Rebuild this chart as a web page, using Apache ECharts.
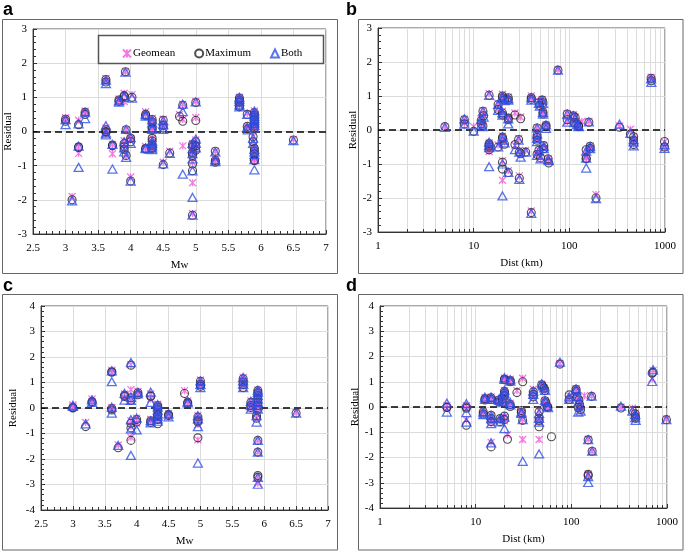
<!DOCTYPE html>
<html><head><meta charset="utf-8">
<script src="https://cdn.jsdelivr.net/npm/echarts@6/dist/echarts.min.js"></script>
<style>html,body{margin:0;padding:0;background:#fff}#c{width:685px;height:552px}</style>
</head><body><div id="c"></div>
<script>
// ---------- DATA (rows: [x, Geomean, Maximum, Both]) ----------
const seriesNames = ['Geomean', 'Maximum', 'Both'];
const panelTitles = ['a', 'b', 'c', 'd'];
const mwTicks = [2.5, 3, 3.5, 4, 4.5, 5, 5.5, 6, 6.5, 7];
const distTicks = [1, 10, 100, 1000];

const aRows = [
 [3.0, 0.40, 0.36, 0.35],[3.0, 0.36, 0.30, 0.20],[3.1, -1.90, -2.00, -2.03],
 [3.2, 0.33, 0.20, 0.22],[3.2, -0.45, -0.45, -0.43],[3.2, -0.64, -0.47, -1.05],
 [3.3, 0.60, 0.56, 0.57],[3.3, 0.55, 0.50, 0.38],
 [3.62, 1.55, 1.52, 1.50],[3.62, 1.48, 1.45, 1.40],[3.62, 0.10, 0.05, 0.17],[3.62, 0.00, 0.00, -0.05],[3.62, -0.05, -0.02, -0.10],
 [3.72, -0.38, -0.40, -0.38],[3.72, -0.65, -0.42, -1.10],
 [3.82, 0.95, 0.92, 0.90],[3.82, 0.90, 0.88, 0.86],
 [3.92, 1.75, 1.75, 1.74],[3.90, 1.12, 1.05, 1.04],[3.90, 0.88, 1.02, 1.00],[3.93, 0.06, 0.05, 0.06],
 [3.90, -0.27, -0.35, -0.30],[3.90, -0.40, -0.45, -0.48],[3.90, -0.50, -0.52, -0.60],[3.93, -0.70, -0.70, -0.76],
 [4.02, 1.08, 1.00, 0.98],[4.00, -0.20, -0.20, -0.18],[4.00, -0.25, -0.30, -0.35],[4.00, -1.33, -1.45, -1.45],
 [4.23, 0.58, 0.50, 0.50],[4.23, 0.50, 0.46, 0.45],[4.23, -0.44, -0.50, -0.50],[4.23, -0.50, -0.52, -0.48],
 [4.33, 0.38, 0.35, 0.34],[4.33, 0.30, 0.28, 0.25],[4.33, 0.12, 0.10, 0.10],[4.33, 0.08, 0.06, 0.06],
 [4.33, -0.20, -0.20, -0.28],[4.33, -0.30, -0.28, -0.35],[4.33, -0.38, -0.40, -0.42],[4.33, -0.45, -0.47, -0.48],[4.33, -0.50, -0.50, -0.53],
 [4.50, 0.36, 0.33, 0.32],[4.50, 0.20, 0.18, 0.20],[4.50, 0.10, 0.10, 0.06],[4.50, -0.90, -0.97, -0.95],
 [4.60, -0.58, -0.63, -0.64],
 [4.75, 0.50, 0.44, null],[4.80, 0.80, 0.77, 0.80],[4.80, 0.35, 0.30, 0.58],[4.80, -0.42, null, -1.25],
 [4.95, -0.35, -0.38, -0.35],[4.95, -0.42, -0.45, -0.50],[4.95, -0.60, -0.62, -0.65],[4.95, -0.65, -0.70, -0.80],
 [4.95, -0.90, -0.95, -1.15],[4.95, -1.50, -1.15, -1.93],[4.95, -2.40, -2.45, -2.45],
 [5.00, -0.25, -0.30, -0.22],[5.00, -0.40, -0.42, -0.35],[5.00, -0.50, -0.55, -0.48],[5.00, 0.88, 0.85, 0.87],[5.00, 0.41, 0.32, null],
 [5.30, -0.58, -0.58, -0.60],[5.30, -0.80, -0.85, -0.83],[5.30, -0.88, -0.90, -0.88],
 [5.67, 1.00, 0.98, 1.00],[5.67, 0.95, 0.92, 0.94],[5.67, 0.88, 0.86, 0.88],[5.67, 0.80, 0.75, 0.78],[5.67, 0.75, 0.72, 0.72],
 [5.79, 0.53, 0.50, 0.50],[5.79, 0.15, 0.15, 0.12],[5.80, 0.10, 0.08, 0.05],
 [5.90, 0.60, 0.55, 0.60],[5.90, 0.50, 0.48, 0.52],[5.90, 0.45, 0.42, 0.45],[5.90, 0.38, 0.35, 0.38],
 [5.90, 0.30, 0.30, 0.32],[5.90, 0.25, 0.22, 0.25],[5.90, 0.15, 0.15, 0.18],[5.90, 0.10, 0.10, 0.10],
 [5.88, -0.15, -0.15, -0.20],[5.88, -0.30, -0.30, -0.35],[5.90, -0.50, -0.50, -0.52],[5.90, -0.60, -0.58, -0.60],
 [5.90, -0.65, -0.65, -0.68],[5.90, -0.80, -0.85, -0.82],[5.90, -0.85, -0.85, -1.12],
 [6.50, -0.23, -0.25, -0.27]
];

const bRows = [
 [5, 0.10, 0.10, 0.08],[8, 0.32, 0.30, 0.33],[8, 0.20, 0.18, 0.17],[10, 0.10, -0.04, -0.03],
 [12, 0.20, 0.18, 0.15],[12, 0.30, 0.28, 0.32],[12.5, 0.57, 0.55, 0.55],[12.7, 0.45, 0.42, 0.38],[12.5, 0.12, 0.12, 0.10],
 [14.5, 1.07, 1.02, 1.02],[14.5, -0.38, -0.40, -0.36],[14.5, -0.45, -0.45, -0.45],[14.5, -0.50, -0.50, -0.52],[14.5, -0.63, -0.58, -1.08],
 [18, -0.44, -0.50, -0.50],[18, 0.78, 0.75, 0.75],[18, 0.60, 0.60, 0.58],
 [20, 1.05, 1.00, 0.98],[20, 0.98, 0.95, 0.92],[21, 0.90, 0.88, 0.86],[20, 0.55, 0.50, 0.50],[20, 0.45, 0.44, 0.44],
 [20, -0.18, -0.21, -0.20],[20, -0.28, -0.25, -0.30],[21, -0.36, -0.42, -0.38],[20, -0.90, -0.95, -1.00],[20, -1.48, -1.15, -1.94],
 [23, -1.20, -1.25, -1.25],[23, 0.97, 0.95, 0.92],[23, 0.90, 0.88, 0.88],[23, 0.38, 0.35, 0.33],[23, 0.30, 0.30, 0.18],
 [27, 0.50, 0.44, null],[27, -0.45, -0.43, -0.58],[31, 0.38, 0.33, null],
 [29.5, -0.25, -0.28, -0.30],[30, -0.60, -0.65, -0.65],[31, -0.70, -0.70, -0.80],[30, -1.35, -1.42, -1.45],[35, -0.60, -0.65, -0.65],
 [40, 1.00, 0.95, 0.95],[40, 0.92, 0.90, 0.88],[40, -2.38, -2.43, -2.45],
 [46, 0.07, 0.06, 0.06],[46, -0.12, -0.15, -0.12],[46, -0.22, -0.22, -0.25],[46, -0.30, -0.30, -0.34],[46, -0.72, -0.72, -0.75],
 [48, 0.85, 0.80, 0.78],[49, 0.75, 0.72, 0.70],[52, 0.90, 0.88, 0.88],[53, 0.82, 0.80, 0.78],[53, 0.55, 0.52, 0.52],[53, 0.50, 0.47, 0.47],
 [57, 0.15, 0.14, 0.15],[57, 0.10, 0.10, 0.05],[54, -0.45, -0.46, -0.48],[54, -0.55, -0.55, -0.55],
 [48, -0.60, -0.60, -0.62],[50, -0.80, -0.82, -0.85],[60, -0.85, -0.85, -0.87],[61, -0.92, -0.97, -0.90],
 [76, 1.77, 1.76, 1.76],[95, 0.48, 0.47, 0.47],[95, 0.25, 0.30, 0.23],
 [110, 0.45, 0.42, 0.42],[115, 0.38, 0.37, 0.35],[113, 0.25, 0.22, 0.22],[120, 0.18, 0.18, 0.16],[125, 0.12, 0.12, 0.12],[125, 0.10, 0.10, 0.10],
 [135, 0.25, null, null],[160, 0.25, 0.23, 0.24],
 [150, -0.60, -0.58, -0.62],[150, -0.82, -0.83, -0.83],[150, -0.80, -0.85, -1.12],[165, -0.47, -0.48, -0.48],[165, -0.55, -0.54, -0.55],
 [190, -1.90, -2.00, -2.02],[335, 0.12, 0.08, 0.17],[435, 0.02, -0.12, -0.10],
 [470, -0.20, -0.20, -0.28],[470, -0.30, -0.30, -0.35],[470, -0.42, -0.43, -0.47],
 [715, 1.55, 1.52, 1.50],[720, 1.48, 1.45, 1.40],[990, -0.35, -0.34, -0.44],[990, -0.50, -0.50, -0.54]
];

const cRows = [
 [3.0, 0.12, 0.02, 0.10],[3.0, 0.05, 0.00, 0.06],[3.2, -0.57, -0.73, -0.62],[3.3, 0.35, 0.25, 0.32],[3.3, 0.25, 0.22, 0.22],
 [3.61, 1.48, 1.42, 1.46],[3.61, 1.40, 1.40, 1.03],[3.61, 0.02, -0.02, 0.03],[3.61, -0.10, -0.08, -0.20],
 [3.71, -1.45, -1.56, -1.47],[3.81, 0.55, 0.50, 0.57],[3.81, 0.40, 0.45, 0.31],
 [3.91, 1.70, 1.68, 1.78],[3.91, 0.72, 0.40, 0.42],[3.91, 0.30, 0.30, 0.30],[3.91, -0.50, -0.60, -0.46],[3.91, -0.72, -0.78, -0.82],[3.91, -1.15, -1.27, -1.86],
 [4.00, -0.40, -0.45, -0.40],[4.00, -0.60, -0.55, -0.86],[4.02, 0.65, 0.60, 0.62],[4.02, 0.55, 0.52, 0.55],
 [4.22, 0.55, 0.48, 0.62],[4.22, 0.35, 0.45, 0.22],[4.22, -0.45, -0.50, -0.50],[4.22, -0.55, -0.57, -0.58],
 [4.33, 0.15, 0.10, 0.13],[4.33, 0.05, 0.03, 0.03],[4.33, -0.05, -0.07, -0.08],[4.33, -0.22, -0.25, -0.23],
 [4.33, -0.30, -0.30, -0.32],[4.33, -0.43, -0.45, -0.43],[4.33, -0.50, -0.62, -0.52],
 [4.50, -0.22, -0.25, -0.23],[4.50, -0.30, -0.30, -0.35],
 [4.75, 0.68, 0.57, null],[4.80, 0.28, 0.22, 0.25],[4.80, 0.20, 0.18, 0.20],
 [4.96, -0.30, -0.35, -0.30],[4.96, -0.45, -0.50, -0.43],[4.96, -0.65, -0.55, -0.73],[4.96, -1.25, -1.17, -2.16],
 [5.00, 1.10, 1.05, 1.06],[5.00, 0.95, 0.92, 0.93],[5.00, 0.85, 0.85, 0.80],
 [5.67, 1.20, 1.15, 1.20],[5.67, 1.05, 1.02, 1.06],[5.67, 0.95, 0.92, 0.94],[5.67, 0.82, 0.80, 0.80],
 [5.79, 0.28, 0.22, 0.26],[5.79, 0.10, 0.10, 0.09],[5.79, 0.00, 0.02, -0.04],
 [5.90, 0.70, 0.68, 0.70],[5.90, 0.60, 0.60, 0.61],[5.90, 0.50, 0.48, 0.48],[5.90, 0.35, 0.35, 0.35],
 [5.90, 0.22, 0.22, 0.22],[5.90, 0.10, 0.10, 0.09],[5.90, -0.03, -0.05, -0.04],
 [5.88, -0.25, -0.30, -0.30],[5.88, -0.40, -0.40, -0.55],[5.90, -1.27, -1.27, -1.27],[5.90, -1.73, -1.73, -1.73],
 [5.90, -2.70, -2.65, -2.72],[5.90, -2.95, -2.72, -2.99],[6.50, -0.18, -0.20, -0.20]
];

const dRows = [
 [5, 0.05, 0.00, 0.15],[5, -0.05, -0.02, -0.20],[8, 0.05, 0.00, 0.13],[8, -0.05, -0.05, -0.22],[8, -0.50, -0.72, -0.60],
 [12, -0.20, -0.20, -0.20],[12, -0.30, -0.28, -0.30],[12.5, 0.38, 0.33, 0.39],[12.5, 0.30, 0.28, 0.30],
 [14.5, 0.40, 0.36, 0.40],[14.5, 0.30, 0.30, 0.30],[14.5, -0.35, -0.33, -0.33],[14.5, -0.45, -0.46, -0.46],[14.5, -0.63, -0.58, -0.66],[14.5, -1.40, -1.58, -1.42],
 [17.5, 0.30, 0.28, 0.30],[17.5, 0.22, 0.20, 0.26],[18, -0.45, -0.46, -0.46],[18, -0.55, -0.58, -0.59],
 [20, 1.15, 1.10, 1.16],[20, 1.10, 1.08, 1.09],[20, 0.65, 0.62, 0.66],[20, 0.55, 0.55, 0.55],[20, 0.45, 0.45, 0.46],
 [19, 0.35, 0.33, 0.33],[19, 0.20, 0.20, 0.20],[20, -0.40, -0.36, -0.40],[20, -0.55, -0.50, -0.86],[21.5, -1.10, -1.28, null],
 [23, 1.10, 1.05, 1.08],[23, 1.02, 1.00, 1.02],[23, 0.15, 0.10, 0.18],[23, 0.05, 0.02, 0.08],
 [27, 0.65, 0.57, null],[30, -0.15, -0.14, -0.20],[30, -0.25, -0.22, -0.25],[31, 1.14, 1.00, null],[31, -0.50, -0.53, -0.50],[31, -1.29, null, -2.15],
 [40, 0.70, 0.60, 0.63],[40, 0.50, 0.50, 0.50],[40, 0.35, 0.40, 0.30],
 [46, -0.15, -0.20, -0.25],[46, -0.40, -0.45, -0.45],[46, -0.58, -0.55, -0.60],[46, -1.29, -0.78, -1.86],
 [49, 0.90, 0.88, 0.92],[50, 0.85, 0.82, 0.84],[52, 0.75, 0.74, 0.76],[53, 0.65, 0.65, 0.66],[53, 0.25, 0.25, 0.26],[54, 0.18, 0.18, 0.20],
 [56, 0.03, 0.02, 0.03],[57, -0.02, -0.02, -0.03],[62, null, -1.18, null],
 [76, 1.72, 1.70, 1.78],[95, 0.45, 0.48, 0.40],[95, 0.30, 0.30, 0.30],
 [112, 0.72, 0.70, 0.72],[112, 0.65, 0.62, 0.66],[115, 0.40, 0.40, 0.42],[120, 0.25, 0.28, 0.22],[122, 0.15, 0.10, 0.05],
 [118, -0.05, -0.02, -0.20],[125, -0.15, -0.10, -0.16],[137, 0.45, null, null],[163, 0.43, 0.42, 0.43],
 [150, -1.28, -1.30, -1.29],[165, -1.75, -1.75, -1.75],[150, -2.65, -2.67, -2.76],[150, -2.70, -2.72, -2.99],
 [330, 0.00, -0.04, 0.03],[435, -0.05, -0.15, -0.16],[465, -0.25, -0.27, -0.30],[465, -0.35, -0.37, -0.42],[470, -0.45, -0.45, -0.53],
 [715, 1.45, 1.38, 1.47],[700, 1.12, 1.35, 1.01],[985, -0.48, -0.50, -0.50]
];

// ---------- STYLE ----------
const SERIF = '"Liberation Serif","Times New Roman",serif';
const GEO_COLOR = '#f05ad8', MAX_COLOR = '#222222', BOTH_COLOR = '#2f50e6';
const GEO_SYMBOL = 'path://M0,0L10,10M10,0L0,10M5,0L5,10';

const chart = echarts.init(document.getElementById('c'), null, {renderer: 'canvas'});

const grids = [
  {left: 33, top: 29, width: 293, height: 205},
  {left: 378, top: 28, width: 287, height: 204},
  {left: 41, top: 306, width: 287, height: 204},
  {left: 380, top: 306, width: 287, height: 202}
].map(g => Object.assign({show: true, borderColor: '#555', borderWidth: 1, backgroundColor: 'transparent'}, g));

const axisLineStyle = {color: '#333', width: 1};
const labelStyle = {color: '#000', fontFamily: SERIF, fontSize: 11};
const nameStyle = {color: '#000', fontFamily: SERIF, fontSize: 11};

function xAxisMw(gi, gap) {
  return {type: 'value', gridIndex: gi, min: mwTicks[0], max: mwTicks[mwTicks.length - 1], interval: 0.5,
    name: 'Mw', nameLocation: 'middle', nameGap: gap, nameTextStyle: nameStyle,
    axisLine: {show: true, onZero: false, lineStyle: axisLineStyle},
    axisTick: {show: true, inside: true, length: 4, lineStyle: axisLineStyle},
    minorTick: {show: true, splitNumber: 5, length: 3, lineStyle: {color: '#333'}},
    splitLine: {show: true, lineStyle: {color: '#dcdcdc', width: 1}},
    axisLabel: Object.assign({margin: 9}, labelStyle)};
}
function xAxisDist(gi, gap) {
  return {type: 'log', logBase: 10, gridIndex: gi, min: distTicks[0], max: distTicks[distTicks.length - 1],
    name: 'Dist (km)', nameLocation: 'middle', nameGap: gap, nameTextStyle: nameStyle,
    axisLine: {show: true, onZero: false, lineStyle: axisLineStyle},
    axisTick: {show: true, inside: true, length: 4, lineStyle: axisLineStyle},
    minorTick: {show: true, splitNumber: 9, length: 3, lineStyle: {color: '#333'}},
    splitLine: {show: true, lineStyle: {color: '#dcdcdc', width: 1}},
    minorSplitLine: {show: true, lineStyle: {color: '#dcdcdc', width: 1}},
    axisLabel: Object.assign({margin: 9, formatter: v => String(Math.round(v))}, labelStyle)};
}
function yAxisRes(gi, lim, gap) {
  return {type: 'value', gridIndex: gi, min: -lim, max: lim, interval: 1,
    name: 'Residual', nameLocation: 'middle', nameGap: gap, nameRotate: 90, nameTextStyle: nameStyle,
    axisLine: {show: true, onZero: false, lineStyle: axisLineStyle},
    axisTick: {show: true, inside: true, length: 4, lineStyle: axisLineStyle},
    minorTick: {show: true, splitNumber: 5, length: 3, lineStyle: {color: '#333'}},
    splitLine: {show: true, lineStyle: {color: '#dcdcdc', width: 1}},
    axisLabel: Object.assign({margin: 6}, labelStyle)};
}

const xAxes = [xAxisMw(0, 26), xAxisDist(1, 26), xAxisMw(2, 26), xAxisDist(3, 26)];
const yAxes = [yAxisRes(0, 3, 16), yAxisRes(1, 3, 14), yAxisRes(2, 4, 22), yAxisRes(3, 4, 17)];

const seriesStyles = [
  {symbol: GEO_SYMBOL, symbolSize: 7, itemStyle: {color: 'rgba(0,0,0,0)', borderColor: GEO_COLOR, borderWidth: 1.3}},
  {symbol: 'circle', symbolSize: 8, itemStyle: {color: 'rgba(0,0,0,0)', borderColor: MAX_COLOR, borderWidth: 1.1}},
  {symbol: 'triangle', symbolSize: [9, 8], itemStyle: {color: 'rgba(0,0,0,0)', borderColor: BOTH_COLOR, borderWidth: 1.3}}
];

const panels = [aRows, bRows, cRows, dRows];
const series = [];
panels.forEach((rows, pi) => {
  seriesNames.forEach((nm, si) => {
    const s = Object.assign({
      type: 'scatter', name: nm, xAxisIndex: pi, yAxisIndex: pi,
      data: rows.filter(r => r[si + 1] !== null).map(r => [r[0], r[si + 1]]),
      emphasis: {disabled: true}, silent: true, z: 3 + si
    }, JSON.parse(JSON.stringify(seriesStyles[si])));
    if (si === 0) {
      s.markLine = {silent: true, symbol: 'none', label: {show: false}, animation: false,
        lineStyle: {color: '#000', type: [7, 4], width: 1.6}, data: [{yAxis: 0}], z: 2};
    }
    series.push(s);
  });
});

const boxes = [
  {x: 2.5, y: 19.5, w: 335, h: 254},
  {x: 358.5, y: 19.5, w: 324.5, h: 254},
  {x: 2.5, y: 294.5, w: 335, h: 255.5},
  {x: 358.5, y: 294.5, w: 324.5, h: 255.5}
];
const titlePos = [[3, 1], [346, 1], [3, 277], [346, 277]];
const graphic = [];
boxes.forEach(b => graphic.push({type: 'rect', silent: true, z: 0,
  shape: {x: b.x, y: b.y, width: b.w, height: b.h}, style: {fill: 'none', stroke: '#666', lineWidth: 1}}));
titlePos.forEach((p, i) => graphic.push({type: 'text', x: p[0], y: p[1], silent: true,
  style: {text: panelTitles[i], font: 'bold 18px "Liberation Sans", Arial, sans-serif', fill: '#000'}}));
graphic.push({type: 'rect', silent: true, z: 10,
  shape: {x: 98.5, y: 35.5, width: 225, height: 28}, style: {fill: '#fff', stroke: '#555', lineWidth: 1.5}});

chart.setOption({
  animation: false,
  backgroundColor: '#fff',
  grid: grids,
  xAxis: xAxes,
  yAxis: yAxes,
  graphic: graphic,
  legend: {data: seriesNames, left: 117, top: 43, itemWidth: 8, itemHeight: 8, itemGap: 19, z: 20,
    selectedMode: false, textStyle: {fontFamily: SERIF, fontSize: 11, color: '#000', padding: [0, 0, 0, -3]}},
  series: series
});
</script></body></html>
